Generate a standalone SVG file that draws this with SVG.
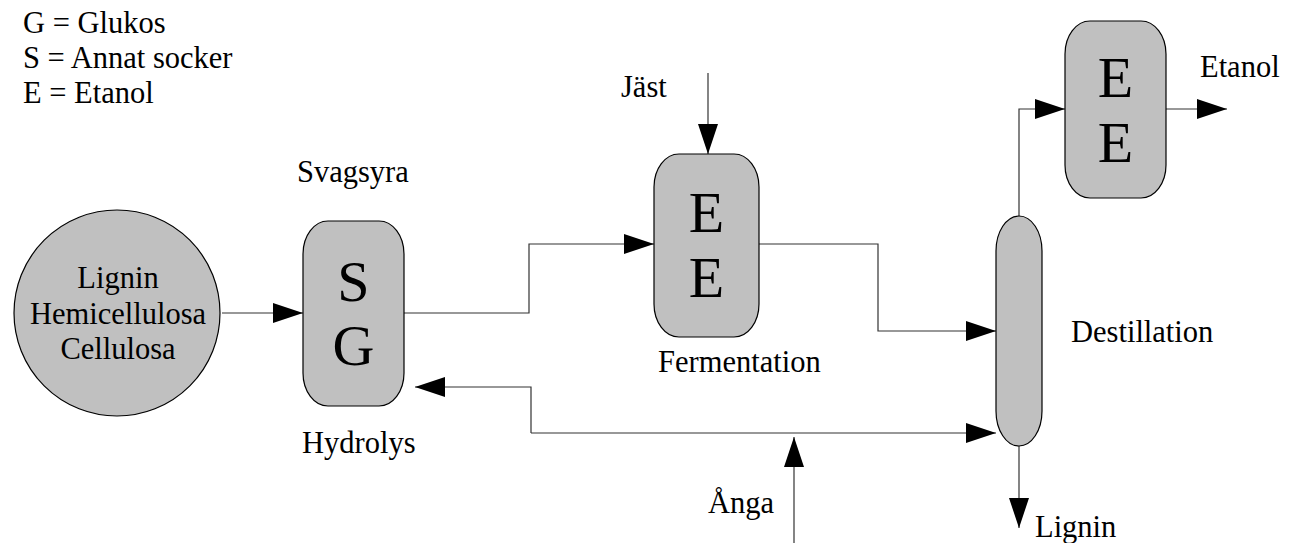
<svg xmlns="http://www.w3.org/2000/svg" width="1295" height="543" viewBox="0 0 1295 543">
<style>
.bg{fill:#ffffff}
.node{fill:#c0c0c0;stroke:#000;stroke-width:1.2}
.conn{fill:none;stroke:#333;stroke-width:1.2}
.t{font-family:'Liberation Serif','Times New Roman',serif;font-size:30.5px;fill:#000}
.big{font-family:'Liberation Serif','Times New Roman',serif;font-size:58px;fill:#000;text-anchor:middle}
.c{text-anchor:middle}
</style>
<defs>
<marker id="arr" markerUnits="userSpaceOnUse" markerWidth="30" markerHeight="20" refX="30" refY="10" orient="auto">
<path d="M0,0 L30,10 L0,20 z" fill="#000"/>
</marker>
</defs>
<rect class="bg" x="0" y="0" width="1295" height="543"/>

<g id="legend">
<text class="t" x="23" y="33">G = Glukos</text>
<text class="t" x="23" y="68">S = Annat socker</text>
<text class="t" x="23" y="103">E = Etanol</text>
</g>

<g id="connectors">
<path class="conn" d="M222,313 H303" marker-end="url(#arr)"/>
<path class="conn" d="M404,313 H529 V244 H654" marker-end="url(#arr)"/>
<path class="conn" d="M759,244 H878 V331 H996" marker-end="url(#arr)"/>
<path class="conn" d="M531,433 V387 H415" marker-end="url(#arr)"/>
<path class="conn" d="M531,433 H996" marker-end="url(#arr)"/>
<path class="conn" d="M794,543 V437" marker-end="url(#arr)"/>
<path class="conn" d="M708,73 V154" marker-end="url(#arr)"/>
<path class="conn" d="M1019,216 V109 H1065" marker-end="url(#arr)"/>
<path class="conn" d="M1166,109 H1227" marker-end="url(#arr)"/>
<path class="conn" d="M1019,446 V528" marker-end="url(#arr)"/>
</g>

<g id="feedstock">
<circle class="node" cx="117" cy="313" r="103"/>
<text class="t c" x="118" y="288">Lignin</text>
<text class="t c" x="118" y="323.5">Hemicellulosa</text>
<text class="t c" x="118" y="359">Cellulosa</text>
</g>

<g id="hydrolys">
<rect class="node" x="303" y="221" width="101" height="185" rx="25" ry="33"/>
<text class="big" x="353.5" y="301">S</text>
<text class="big" x="353.5" y="365">G</text>
<text class="t" x="297" y="182">Svagsyra</text>
<text class="t" x="302" y="453">Hydrolys</text>
</g>

<g id="fermentation">
<rect class="node" x="654" y="154" width="105" height="183" rx="25" ry="33"/>
<text class="big" x="706.5" y="232">E</text>
<text class="big" x="706.5" y="297">E</text>
<text class="t" x="621" y="97">Jäst</text>
<text class="t" x="658" y="372">Fermentation</text>
</g>

<g id="steam">
<text class="t" x="708" y="513">Ånga</text>
</g>

<g id="destillation">
<rect class="node" x="996" y="216" width="46" height="230" rx="23" ry="35"/>
<text class="t" x="1071" y="342">Destillation</text>
<text class="t" x="1035" y="537">Lignin</text>
</g>

<g id="etanol">
<rect class="node" x="1065" y="21" width="101" height="177" rx="25" ry="33"/>
<text class="big" x="1115.5" y="97">E</text>
<text class="big" x="1115.5" y="162">E</text>
<text class="t" x="1200" y="77">Etanol</text>
</g>
</svg>
